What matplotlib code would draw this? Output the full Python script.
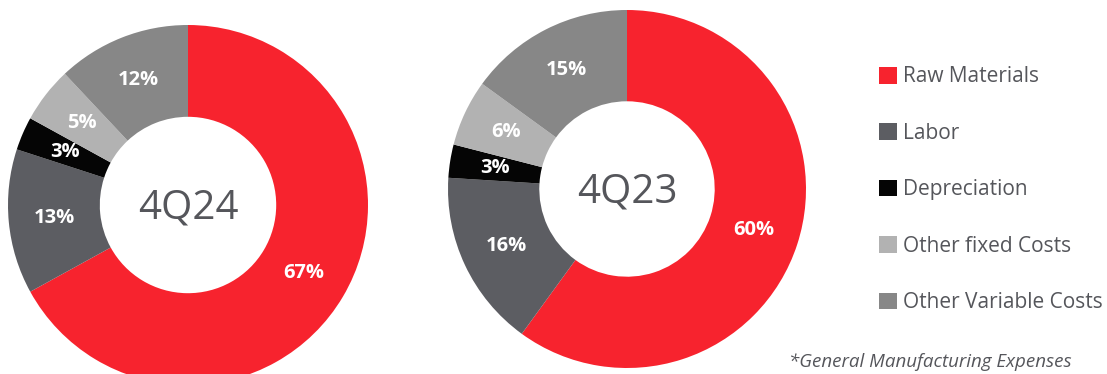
import matplotlib
matplotlib.use("Agg")
import matplotlib.pyplot as plt
from matplotlib.patches import Patch

# data
categories = ["Raw Materials", "Labor", "Depreciation", "Other fixed Costs", "Other Variable Costs"]
q4_24 = [67, 13, 3, 5, 12]
q4_23 = [60, 16, 3, 6, 15]
colors = ["#F7232E", "#5C5D62", "#050505", "#B2B2B2", "#878787"]

W, H = 1107, 374
fig = plt.figure(figsize=(W / 100, H / 100), dpi=100)
plt.rcParams['font.family'] = ['Open Sans', 'DejaVu Sans']

text_col = "#55565B"


def donut(ax, values, title):
    ax.pie(values, colors=colors, startangle=90, counterclock=False,
           radius=1, wedgeprops=dict(width=0.51, linewidth=0),
           autopct=lambda p: f"{p:.0f}%", pctdistance=0.745,
           textprops=dict(color="white", fontsize=14.5, fontweight="bold"))
    ax.set_xlim(-1, 1)
    ax.set_ylim(-1, 1)
    ax.set_aspect("equal")
    ax.axis("off")
    ax.text(0, -0.02, title, ha="center", va="center", fontsize=29,
            color=text_col, fontweight="normal")


# left donut: center (188,205) r=180 px
ax1 = fig.add_axes([(188 - 180) / W, (H - 205 - 180) / H, 360 / W, 360 / H])
donut(ax1, q4_24, "4Q24")

# right donut: center (627,189) r=179 px
ax2 = fig.add_axes([(627 - 179) / W, (H - 189 - 179) / H, 358 / W, 358 / H])
donut(ax2, q4_23, "4Q23")

handles = [Patch(facecolor=c, edgecolor="none") for c in colors]
leg = fig.legend(handles, categories, loc="upper left",
                 bbox_to_anchor=(869 / W, (H - 56) / H), frameon=False,
                 fontsize=15, labelspacing=1.7, handlelength=0.85,
                 handleheight=0.85, handletextpad=0.3, borderpad=0)
for t in leg.get_texts():
    t.set_color(text_col)

fig.text(1072 / W, (H - 362) / H, "*General Manufacturing Expenses",
         ha="right", va="center", fontsize=13.5, style="italic", color=text_col)

fig.savefig("out.png", dpi=100)
